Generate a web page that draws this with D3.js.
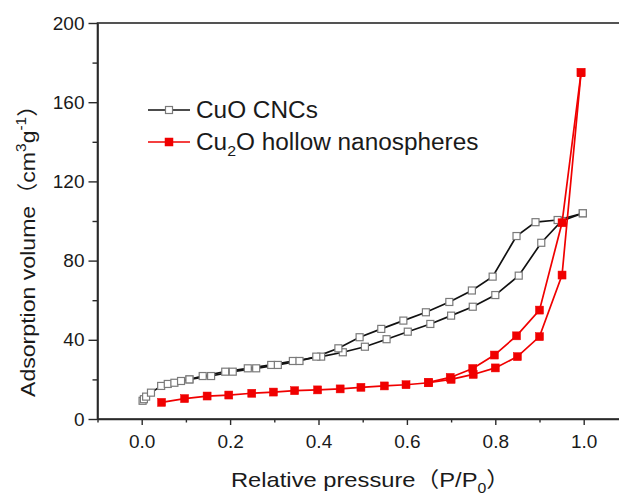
<!DOCTYPE html>
<html>
<head>
<meta charset="utf-8">
<script src="https://cdn.jsdelivr.net/npm/d3@7"></script>
<style>
  html, body { margin: 0; padding: 0; background: #fff; }
  svg { display: block; }
  text { font-family: "Liberation Sans", Arial, "Noto Sans CJK SC", sans-serif; fill: #1a1a1a; }
</style>
</head>
<body>
<svg id="chart" width="619" height="495"></svg>
<script>
// ---- data ----
const cuoAdsP = [0.002, 0.005, 0.010, 0.021, 0.044, 0.059, 0.074, 0.089, 0.108, 0.138, 0.189, 0.240, 0.293, 0.342, 0.406, 0.455, 0.505, 0.554, 0.602, 0.653, 0.700, 0.749, 0.800, 0.853, 0.904, 0.950, 0.998];
const cuoAdsV = [9.2, 10.0, 11.3, 13.3, 16.7, 17.7, 18.3, 19.2, 20.0, 21.7, 23.9, 25.6, 27.3, 29.3, 31.5, 33.7, 36.5, 40.3, 44.1, 48.0, 52.2, 56.7, 62.6, 72.4, 89.0, 100.0, 103.9];
const cuoDesP = [0.998, 0.941, 0.891, 0.848, 0.794, 0.747, 0.696, 0.643, 0.592, 0.542, 0.493, 0.445, 0.395, 0.357, 0.308, 0.259, 0.206, 0.157, 0.108];
const cuoDesV = [103.9, 100.5, 99.4, 92.4, 71.9, 64.9, 59.1, 53.9, 49.7, 45.5, 41.3, 35.7, 31.5, 29.3, 27.3, 25.6, 23.9, 21.7, 20.0];

const cu2oAdsP = [0.045, 0.097, 0.148, 0.197, 0.249, 0.298, 0.346, 0.398, 0.449, 0.496, 0.549, 0.598, 0.649, 0.700, 0.750, 0.800, 0.850, 0.900, 0.951, 0.994];
const cu2oAdsV = [8.4, 10.3, 11.6, 12.1, 13.0, 13.6, 14.3, 14.7, 15.2, 16.0, 16.7, 17.3, 18.3, 20.0, 22.5, 25.8, 31.5, 41.6, 72.7, 174.9];
const cu2oDesP = [0.994, 0.951, 0.900, 0.848, 0.798, 0.749, 0.698, 0.649];
const cu2oDesV = [174.9, 99.1, 55.0, 42.0, 32.3, 25.5, 21.0, 18.5];

const xTicks = [0.0, 0.2, 0.4, 0.6, 0.8, 1.0];
const xMinor = [-0.1, 0.1, 0.3, 0.5, 0.7, 0.9, 1.1];
const yTicks = [0, 40, 80, 120, 160, 200];
const yMinor = [20, 60, 100, 140, 180];
const legendNames = ["CuO CNCs", "Cu2O hollow nanospheres"];

// ---- drawing ----
const svg = d3.select("#chart");
const x = d3.scaleLinear().domain([-0.1, 1.1]).range([97.5, 627.9]);
const y = d3.scaleLinear().domain([0, 200]).range([419, 23]);
const axisColor = "#2a2a2a";

// frame (right side falls outside the picture, as in the reference)
svg.append("rect")
  .attr("x", x(-0.1)).attr("y", y(200))
  .attr("width", x(1.1) - x(-0.1)).attr("height", y(0) - y(200))
  .attr("fill", "none").attr("stroke", axisColor).attr("stroke-width", 1.6);

// x axis
const xAxis = d3.axisBottom(x).tickValues(xTicks).tickFormat(d3.format(".1f")).tickSize(6).tickSizeOuter(0);
const gx = svg.append("g").attr("transform", `translate(0,${y(0)})`).call(xAxis);
gx.select(".domain").attr("stroke", axisColor).attr("stroke-width", 1.6);
gx.selectAll(".tick line").attr("stroke", axisColor).attr("stroke-width", 1.4);
gx.selectAll(".tick text").attr("font-size", 19).attr("font-family", "Liberation Sans, Arial").attr("fill", "#1a1a1a").attr("dy", 0).attr("y", 29);
const gxm = svg.append("g").attr("transform", `translate(0,${y(0)})`)
  .call(d3.axisBottom(x).tickValues(xMinor).tickSize(3.5).tickFormat(""));
gxm.select(".domain").remove();
gxm.selectAll(".tick line").attr("stroke", axisColor).attr("stroke-width", 1.4);

// y axis
const yAxis = d3.axisLeft(y).tickValues(yTicks).tickFormat(d3.format("d")).tickSize(9).tickSizeOuter(0);
const gy = svg.append("g").attr("transform", `translate(${x(-0.1)},0)`).call(yAxis);
gy.select(".domain").attr("stroke", axisColor).attr("stroke-width", 1.6);
gy.selectAll(".tick line").attr("stroke", axisColor).attr("stroke-width", 1.4);
gy.selectAll(".tick text").attr("font-size", 19).attr("font-family", "Liberation Sans, Arial").attr("fill", "#1a1a1a").attr("x", -13);
const gym = svg.append("g").attr("transform", `translate(${x(-0.1)},0)`)
  .call(d3.axisLeft(y).tickValues(yMinor).tickSize(5).tickFormat(""));
gym.select(".domain").remove();
gym.selectAll(".tick line").attr("stroke", axisColor).attr("stroke-width", 1.4);

// axis titles
const xt = svg.append("text").attr("transform", "translate(231,487) scale(1.13,1)").attr("font-size", 21);
xt.append("tspan").text("Relative pressure（P/P");
xt.append("tspan").attr("font-size", 14).attr("dy", 6).text("0");
xt.append("tspan").attr("dy", -6).text("）");

const yt = svg.append("text").attr("transform", "translate(35,397) rotate(-90) scale(1.1,1)").attr("font-size", 21);
yt.append("tspan").text("Adsorption volume（cm");
yt.append("tspan").attr("font-size", 14).attr("dy", -9).text("3");
yt.append("tspan").attr("dy", 9).text("g");
yt.append("tspan").attr("font-size", 14).attr("dy", -9).text("-1");
yt.append("tspan").attr("dy", 9).text("）");

// series helpers
const line = d3.line().x(d => x(d[0])).y(d => y(d[1]));
function pairs(ps, vs) { return ps.map((p, i) => [p, vs[i]]); }

function drawSeries(adsP, adsV, desP, desV, color, open) {
  const g = svg.append("g");
  [pairs(adsP, adsV), pairs(desP, desV)].forEach(pts => {
    g.append("path").attr("d", line(pts)).attr("fill", "none")
      .attr("stroke", color).attr("stroke-width", 1.7);
  });
  const all = pairs(adsP, adsV).concat(pairs(desP, desV));
  const s = open ? 7 : 8;
  g.selectAll("rect.m").data(all).enter().append("rect")
    .attr("x", d => x(d[0]) - s / 2).attr("y", d => y(d[1]) - s / 2)
    .attr("width", s).attr("height", s)
    .attr("fill", open ? "#fff" : color)
    .attr("stroke", open ? "#7a7a7a" : color)
    .attr("stroke-width", open ? 1.2 : 0.5);
}

drawSeries(cuoAdsP, cuoAdsV, cuoDesP, cuoDesV, "#111", true);
drawSeries(cu2oAdsP, cu2oAdsV, cu2oDesP, cu2oDesV, "#f00000", false);

// legend
const leg = svg.append("g");
const legRows = [
  { y: 110, color: "#111", open: true },
  { y: 142, color: "#f00000", open: false }
];
legRows.forEach((r, i) => {
  leg.append("line").attr("x1", 148).attr("x2", 190).attr("y1", r.y).attr("y2", r.y)
    .attr("stroke", r.color).attr("stroke-width", 1.6);
  const s = r.open ? 7 : 8;
  leg.append("rect").attr("x", 169 - s / 2).attr("y", r.y - s / 2).attr("width", s).attr("height", s)
    .attr("fill", r.open ? "#fff" : r.color).attr("stroke", r.open ? "#7a7a7a" : r.color)
    .attr("stroke-width", r.open ? 1.2 : 0.5);
});
leg.append("text").attr("transform", "translate(196,118) scale(1.06,1)").attr("font-size", 23).text(legendNames[0]);
const l2 = leg.append("text").attr("transform", "translate(196,150) scale(1.06,1)").attr("font-size", 23);
l2.append("tspan").text("Cu");
l2.append("tspan").attr("font-size", 15).attr("dy", 6).text("2");
l2.append("tspan").attr("dy", -6).text("O hollow nanospheres");
</script>
</body>
</html>
